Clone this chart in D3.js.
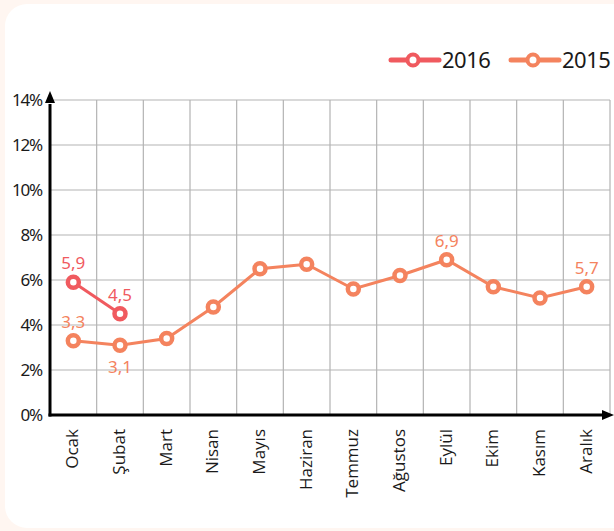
<!DOCTYPE html>
<html>
<head>
<meta charset="utf-8">
<script src="https://cdn.jsdelivr.net/npm/d3@7"></script>
<style>
  html, body { margin: 0; padding: 0; background: #fff6f1; }
  svg { display: block; }
</style>
</head>
<body>
<script>
const months = ["Ocak", "Şubat", "Mart", "Nisan", "Mayıs", "Haziran", "Temmuz", "Ağustos", "Eylül", "Ekim", "Kasım", "Aralık"];
const values2016 = [5.9, 4.5];
const values2015 = [3.3, 3.1, 3.4, 4.8, 6.5, 6.7, 5.6, 6.2, 6.9, 5.7, 5.2, 5.7];
const yTicks = [0, 2, 4, 6, 8, 10, 12, 14];
// which points get a value label, and on which side
const labels2016 = [{ i: 0, pos: "above" }, { i: 1, pos: "above" }];
const labels2015 = [{ i: 0, pos: "above" }, { i: 1, pos: "below" }, { i: 8, pos: "above" }, { i: 11, pos: "above" }];

const width = 614;
const height = 531;
const margin = { top: 100, right: 4, bottom: 116, left: 50 };
const color2016 = "#f05a5f";
const color2015 = "#f4835e";

const svg = d3.select("body")
  .append("svg")
  .attr("width", width)
  .attr("height", height);

// white card
svg.append("rect")
  .attr("x", 5)
  .attr("y", 4)
  .attr("width", width + 40)
  .attr("height", 524)
  .attr("rx", 22)
  .attr("fill", "#ffffff");

const x = d3.scaleBand()
  .domain(months)
  .range([margin.left, width - margin.right]);

const y = d3.scaleLinear()
  .domain([0, 14])
  .range([height - margin.bottom, margin.top]);

// grid
const grid = svg.append("g").attr("stroke", "#b3b3b3").attr("stroke-width", 1.2);
grid.selectAll("line.h")
  .data(yTicks.filter((d) => d > 0))
  .join("line")
  .attr("class", "h")
  .attr("x1", margin.left)
  .attr("x2", width - margin.right)
  .attr("y1", (d) => y(d))
  .attr("y2", (d) => y(d));
grid.selectAll("line.v")
  .data(months.slice(1))
  .join("line")
  .attr("class", "v")
  .attr("x1", (d) => x(d))
  .attr("x2", (d) => x(d))
  .attr("y1", y(14))
  .attr("y2", y(0));
grid.append("line")
  .attr("x1", width - margin.right)
  .attr("x2", width - margin.right)
  .attr("y1", y(14))
  .attr("y2", y(0));

// y tick labels
svg.append("g")
  .selectAll("text")
  .data(yTicks)
  .join("text")
  .attr("x", 42)
  .attr("y", (d) => y(d) + 6)
  .attr("text-anchor", "end")
  .attr("font-family", "'Noto Sans', sans-serif")
  .attr("font-size", 17)
  .attr("letter-spacing", -1.2)
  .attr("fill", "#1a1a1a")
  .text((d) => d + "%");

// month labels
svg.append("g")
  .selectAll("text")
  .data(months)
  .join("text")
  .attr("transform", (d) => `translate(${x(d) + x.bandwidth() / 2 + 5},${y(0) + 14}) rotate(-90)`)
  .attr("text-anchor", "end")
  .attr("font-family", "'Open Sans', sans-serif")
  .attr("font-size", 17)
  .attr("fill", "#1a1a1a")
  .text((d) => d);

// axes with arrows
const axes = svg.append("g").attr("stroke", "#000").attr("stroke-width", 3).attr("fill", "none");
axes.append("line")
  .attr("x1", margin.left)
  .attr("x2", margin.left)
  .attr("y1", y(0) + 1.5)
  .attr("y2", y(14) + 4);
axes.append("line")
  .attr("x1", margin.left - 1.5)
  .attr("x2", width - 6)
  .attr("y1", y(0))
  .attr("y2", y(0));
svg.append("path")
  .attr("d", `M${margin.left},${y(14) - 9}L${margin.left - 5},${y(14) + 3}L${margin.left + 5},${y(14) + 3}Z`)
  .attr("fill", "#000");
svg.append("path")
  .attr("d", `M${width},${y(0)}L${width - 12},${y(0) - 5}L${width - 12},${y(0) + 5}Z`)
  .attr("fill", "#000");

const cx = (i) => x(months[i]) + x.bandwidth() / 2;

function drawSeries(values, color, labels) {
  const line = d3.line()
    .x((d, i) => cx(i))
    .y((d) => y(d));
  svg.append("path")
    .datum(values)
    .attr("d", line)
    .attr("fill", "none")
    .attr("stroke", color)
    .attr("stroke-width", 3);
  svg.append("g")
    .selectAll("circle")
    .data(values)
    .join("circle")
    .attr("cx", (d, i) => cx(i))
    .attr("cy", (d) => y(d))
    .attr("r", 5.5)
    .attr("fill", "#fff")
    .attr("stroke", color)
    .attr("stroke-width", 4.5);
  svg.append("g")
    .selectAll("text")
    .data(labels)
    .join("text")
    .attr("x", (d) => cx(d.i))
    .attr("y", (d) => y(values[d.i]) + (d.pos === "above" ? -13 : 28))
    .attr("text-anchor", "middle")
    .attr("font-family", "'Noto Sans', sans-serif")
    .attr("font-size", 17)
    .attr("fill", color)
    .text((d) => String(values[d.i]).replace(".", ","));
}

drawSeries(values2015, color2015, labels2015);
drawSeries(values2016, color2016, labels2016);

// legend
const legendItems = [
  { name: "2016", color: color2016, x: 388 },
  { name: "2015", color: color2015, x: 508 }
];
const legend = svg.append("g")
  .selectAll("g")
  .data(legendItems)
  .join("g")
  .attr("transform", (d) => `translate(${d.x},60)`);
legend.append("line")
  .attr("x1", 3)
  .attr("x2", 51)
  .attr("stroke", (d) => d.color)
  .attr("stroke-width", 5)
  .attr("stroke-linecap", "round");
legend.append("circle")
  .attr("cx", 25)
  .attr("r", 5.5)
  .attr("fill", "#fff")
  .attr("stroke", (d) => d.color)
  .attr("stroke-width", 4);
legend.append("text")
  .attr("x", 54)
  .attr("y", 8)
  .attr("font-family", "'Noto Sans', sans-serif")
  .attr("font-size", 22)
  .attr("letter-spacing", -0.5)
  .attr("fill", "#1a1a1a")
  .text((d) => d.name);
</script>
</body>
</html>
